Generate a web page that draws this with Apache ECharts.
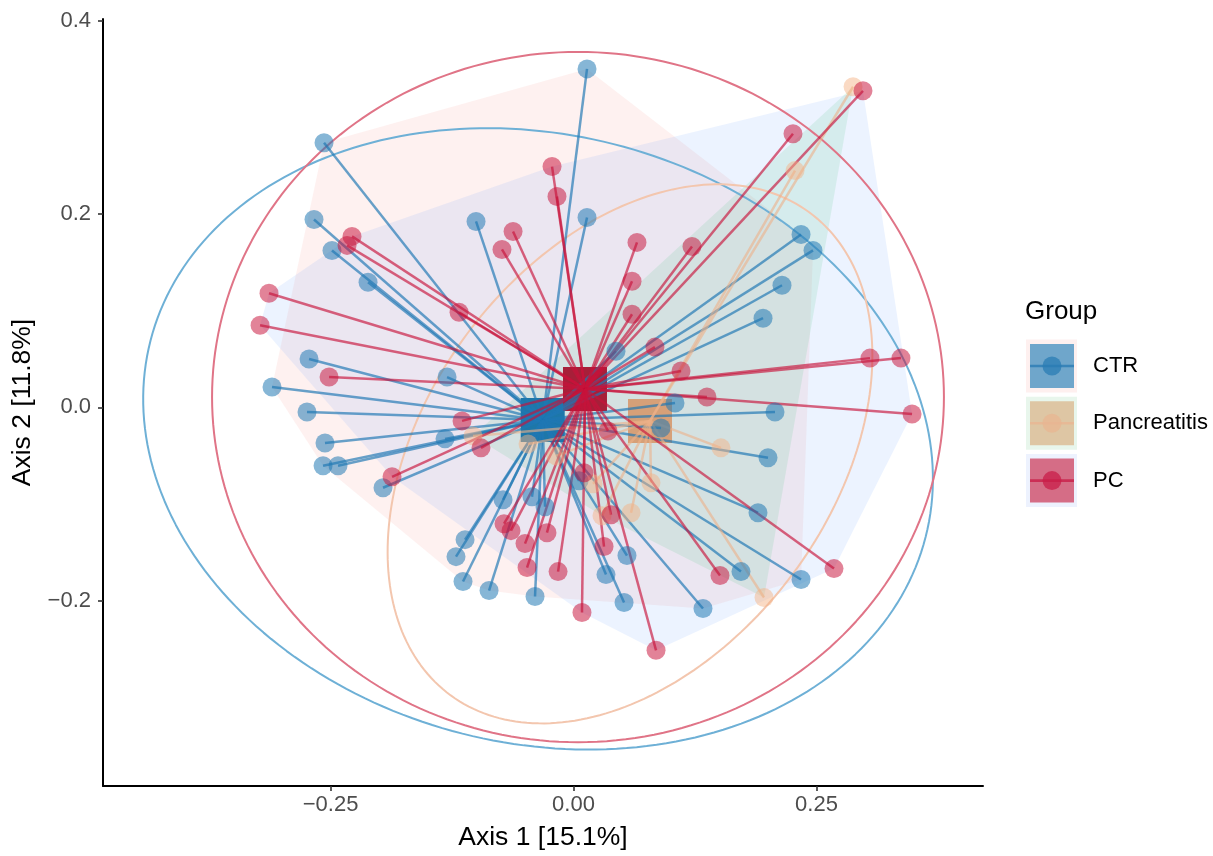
<!DOCTYPE html>
<html>
<head>
<meta charset="utf-8">
<title>PCoA by group</title>
<script src="https://cdn.jsdelivr.net/npm/echarts@6/dist/echarts.min.js"></script>
<style>
  html, body { margin: 0; padding: 0; background: #ffffff; }
  #chart { width: 1213px; height: 856px; }
</style>
</head>
<body>
<div id="chart"></div>
<script>
// Sample coordinates on the first two ordination axes, per group
const ctrPoints = [
  [0.0139, 0.3503], [-0.2567, 0.2739], [-0.2670, 0.1944], [-0.2485, 0.1624],
  [-0.2114, 0.1294], [-0.1003, 0.1924], [0.0139, 0.1965], [-0.2721, 0.0499],
  [-0.3102, 0.0210], [-0.2742, -0.0049], [-0.2557, -0.0369], [-0.2577, -0.0606],
  [-0.2423, -0.0606], [-0.1960, -0.0833], [-0.1301, 0.0313], [-0.1322, -0.0327],
  [0.0437, 0.0581], [0.1044, 0.0044], [0.0900, -0.0214], [0.2341, 0.1789],
  [0.2464, 0.1624], [0.2145, 0.1263], [0.1950, 0.0922], [0.2073, -0.0049],
  [0.2001, -0.0523], [0.1898, -0.1091], [0.1723, -0.1701], [0.2341, -0.1783],
  [0.1332, -0.2083], [0.0520, -0.2021], [0.0550, -0.1535], [0.0334, -0.1732],
  [-0.0396, -0.1959], [-0.0869, -0.1897], [-0.1137, -0.1804], [-0.1209, -0.1546],
  [-0.1116, -0.1370], [-0.0725, -0.0957], [-0.0427, -0.0926], [-0.0293, -0.1029],
  [0.0057, -0.0761]
];
const pancreatitisPoints = [
  [0.2876, 0.3318], [0.2279, 0.2450], [0.1517, -0.0420], [0.1960, -0.1969],
  [0.0797, -0.0782], [0.0592, -0.1091], [0.0293, -0.1122], [0.0201, -0.0792],
  [-0.1034, -0.0296], [-0.0468, -0.0379], [-0.0180, -0.0503]
];
const pcPoints = [
  [-0.0221, 0.2492], [-0.0170, 0.2182], [-0.0622, 0.1820], [-0.0736, 0.1634],
  [-0.2279, 0.1769], [-0.2330, 0.1676], [-0.3133, 0.1180], [-0.3225, 0.0850],
  [-0.1178, 0.0984], [-0.2515, 0.0313], [-0.1147, -0.0141], [-0.0952, -0.0420],
  [-0.1867, -0.0720], [0.0653, 0.1707], [0.1219, 0.1665], [0.2258, 0.2832],
  [0.2978, 0.3276], [0.0602, 0.1304], [0.0602, 0.0963], [0.0838, 0.0623],
  [0.1106, 0.0375], [0.1373, 0.0106], [0.3050, 0.0509], [0.3369, 0.0509],
  [0.3483, -0.0069], [0.0355, -0.0245], [0.0108, -0.0678], [-0.0715, -0.1205],
  [-0.0643, -0.1277], [-0.0499, -0.1411], [-0.0273, -0.1298], [-0.0478, -0.1659],
  [-0.0159, -0.1701], [0.0087, -0.2124], [0.0314, -0.1442], [0.0386, -0.1112],
  [0.0849, -0.2516], [0.1507, -0.1742], [0.2680, -0.1670]
];

// Group centroids
const ctrCentroid = [-0.0317, -0.0131];
const pancreatitisCentroid = [0.0787, -0.0141];
const pcCentroid = [0.0118, 0.0189];

// 95% ellipses: [centre x, centre y, semi-axis a, semi-axis b, rotation in degrees]
const ctrEllipse = [-0.0365, -0.0327, 0.4115, 0.3149, -14.3];
const pancreatitisEllipse = [0.0581, -0.0482, 0.3107, 0.2086, 53.6];
const pcEllipse = [0.0046, 0.0106, 0.3765, 0.3573, 0];

const groupNames = ['CTR', 'Pancreatitis', 'PC'];
const xTicks = [-0.25, 0, 0.25];
const xTickLabels = ['\u22120.25', '0.00', '0.25'];
const yTicks = [-0.2, 0, 0.2, 0.4];
const yTickLabels = ['\u22120.2', '0.0', '0.2', '0.4'];

const FONT = '"Liberation Sans", Arial, Helvetica, sans-serif';

const style = {
  CTR: {
    point: 'rgba(31,120,180,0.68)', line: 'rgba(31,120,180,0.68)', centroid: '#1d77a9',
    hull: 'rgba(248,118,109,0.10)', ellipse: '#6eb0d6',
    keyOuter: '#fef0ef', keyInner: '#6fa6cb', keyMark: '#2a7cb4'
  },
  Pancreatitis: {
    point: 'rgba(244,177,131,0.6)', line: 'rgba(236,176,136,0.6)', centroid: '#d6a078',
    hull: 'rgba(0,186,56,0.10)', ellipse: '#f3c6ae',
    keyOuter: '#e8f6ec', keyInner: '#dec6a4', keyMark: '#e8b592'
  },
  PC: {
    point: 'rgba(200,18,58,0.65)', line: 'rgba(200,18,58,0.65)', centroid: '#a71f39',
    hull: 'rgba(97,156,255,0.12)', ellipse: '#e07487',
    keyOuter: '#edf2fe', keyInner: '#d56d86', keyMark: '#c81e48'
  }
};

function convexHull(points) {
  const p = points.slice().sort((a, b) => a[0] - b[0] || a[1] - b[1]);
  const cross = (o, a, b) => (a[0] - o[0]) * (b[1] - o[1]) - (a[1] - o[1]) * (b[0] - o[0]);
  const lower = [];
  for (const q of p) {
    while (lower.length >= 2 && cross(lower[lower.length - 2], lower[lower.length - 1], q) <= 0) lower.pop();
    lower.push(q);
  }
  const upper = [];
  for (let i = p.length - 1; i >= 0; i--) {
    const q = p[i];
    while (upper.length >= 2 && cross(upper[upper.length - 2], upper[upper.length - 1], q) <= 0) upper.pop();
    upper.push(q);
  }
  upper.pop(); lower.pop();
  return lower.concat(upper);
}

function ellipseOutline(e) {
  const [cx, cy, a, b, deg] = e;
  const t = deg * Math.PI / 180;
  const out = [];
  const n = 240;
  for (let i = 0; i <= n; i++) {
    const s = 2 * Math.PI * i / n;
    const ex = a * Math.cos(s), ey = b * Math.sin(s);
    out.push([cx + ex * Math.cos(t) - ey * Math.sin(t), cy + ex * Math.sin(t) + ey * Math.cos(t)]);
  }
  return out;
}

const groups = [
  { name: 'CTR', points: ctrPoints, centroid: ctrCentroid, ellipse: ctrEllipse },
  { name: 'Pancreatitis', points: pancreatitisPoints, centroid: pancreatitisCentroid, ellipse: pancreatitisEllipse },
  { name: 'PC', points: pcPoints, centroid: pcCentroid, ellipse: pcEllipse }
];

const series = [];

// Convex hulls of each group
groups.forEach(g => {
  const hull = convexHull(g.points);
  series.push({
    type: 'custom', name: g.name + ' hull', silent: true, z: 1,
    data: [[g.centroid[0], g.centroid[1]]],
    renderItem: (params, api) => ({
      type: 'polygon',
      shape: { points: hull.map(p => api.coord(p)) },
      style: { fill: style[g.name].hull, stroke: 'none' }
    })
  });
});

// Ellipses
groups.forEach(g => {
  series.push({
    type: 'line', name: g.name + ' ellipse', silent: true, z: 2,
    data: ellipseOutline(g.ellipse), showSymbol: false, symbol: 'none',
    lineStyle: { color: style[g.name].ellipse, width: 2 }
  });
});

// Centroid squares
groups.forEach(g => {
  series.push({
    type: 'scatter', name: g.name + ' centroid', silent: true, z: 3,
    data: [g.centroid], symbol: 'rect', symbolSize: 44,
    itemStyle: { color: style[g.name].centroid, opacity: 1 }
  });
});

// Spokes from each sample to its group centroid
groups.forEach(g => {
  series.push({
    type: 'custom', name: g.name + ' spokes', silent: true, z: 4,
    data: g.points.map(p => [p[0], p[1], g.centroid[0], g.centroid[1]]),
    encode: { x: [0, 2], y: [1, 3] },
    renderItem: (params, api) => {
      const a = api.coord([api.value(0), api.value(1)]);
      const b = api.coord([api.value(2), api.value(3)]);
      return {
        type: 'line',
        shape: { x1: a[0], y1: a[1], x2: b[0], y2: b[1] },
        style: { stroke: style[g.name].line, lineWidth: 2.5 }
      };
    }
  });
});

// Sample points
groups.forEach(g => {
  series.push({
    type: 'scatter', name: g.name, silent: true, z: 5,
    data: g.points, symbol: 'circle', symbolSize: 19,
    itemStyle: { color: style[g.name].point }
  });
});

// Legend drawn as graphics
const legendGraphics = [{
  type: 'text', x: 1025, y: 312,
  style: { text: 'Group', font: '26px ' + FONT, fill: '#000', verticalAlign: 'middle' }
}];
groupNames.forEach((name, i) => {
  const cy = 366 + i * 57.3;
  const s = style[name];
  legendGraphics.push(
    { type: 'rect', shape: { x: 1026, y: cy - 26.5, width: 51, height: 53 }, style: { fill: s.keyOuter } },
    { type: 'rect', shape: { x: 1030, y: cy - 22, width: 44, height: 44 }, style: { fill: s.keyInner } },
    { type: 'line', shape: { x1: 1030, y1: cy, x2: 1074, y2: cy }, style: { stroke: s.keyMark, lineWidth: 2.6, opacity: 0.8 } },
    { type: 'circle', shape: { cx: 1052, cy: cy, r: 9.5 }, style: { fill: s.keyMark, opacity: 0.75 } },
    { type: 'text', x: 1093, y: cy, style: { text: name, font: '22px ' + FONT, fill: '#000', verticalAlign: 'middle' } }
  );
});

const chart = echarts.init(document.getElementById('chart'), null, { renderer: 'canvas' });
chart.setOption({
  animation: false,
  backgroundColor: '#ffffff',
  textStyle: { fontFamily: FONT },
  grid: { left: 103, top: 19, width: 880, height: 769, containLabel: false },
  xAxis: {
    type: 'value', min: -0.4841, max: 0.4213,
    splitLine: { show: false },
    axisLine: { onZero: false, lineStyle: { color: '#000', width: 2 } },
    axisTick: { customValues: xTicks, length: 5, lineStyle: { color: '#333', width: 1.6 } },
    axisLabel: {
      customValues: xTicks, margin: 8, fontSize: 22, color: '#4d4d4d', fontFamily: FONT,
      formatter: v => xTickLabels[xTicks.findIndex(t => Math.abs(t - v) < 1e-9)] ?? ''
    },
    name: 'Axis 1 [15.1%]', nameLocation: 'middle', nameGap: 38,
    nameTextStyle: { fontSize: 26.5, color: '#000', fontFamily: FONT }
  },
  yAxis: {
    type: 'value', min: -0.39205, max: 0.40196,
    splitLine: { show: false },
    axisLine: { onZero: false, lineStyle: { color: '#000', width: 2 } },
    axisTick: { customValues: yTicks, length: 5, lineStyle: { color: '#333', width: 1.6 } },
    axisLabel: {
      customValues: yTicks, margin: 12, fontSize: 22, color: '#4d4d4d', fontFamily: FONT,
      formatter: v => yTickLabels[yTicks.findIndex(t => Math.abs(t - v) < 1e-9)] ?? ''
    },
    name: 'Axis 2 [11.8%]', nameLocation: 'middle', nameGap: 56,
    nameTextStyle: { fontSize: 26.5, color: '#000', fontFamily: FONT }
  },
  graphic: legendGraphics,
  series: series
});
</script>
</body>
</html>
